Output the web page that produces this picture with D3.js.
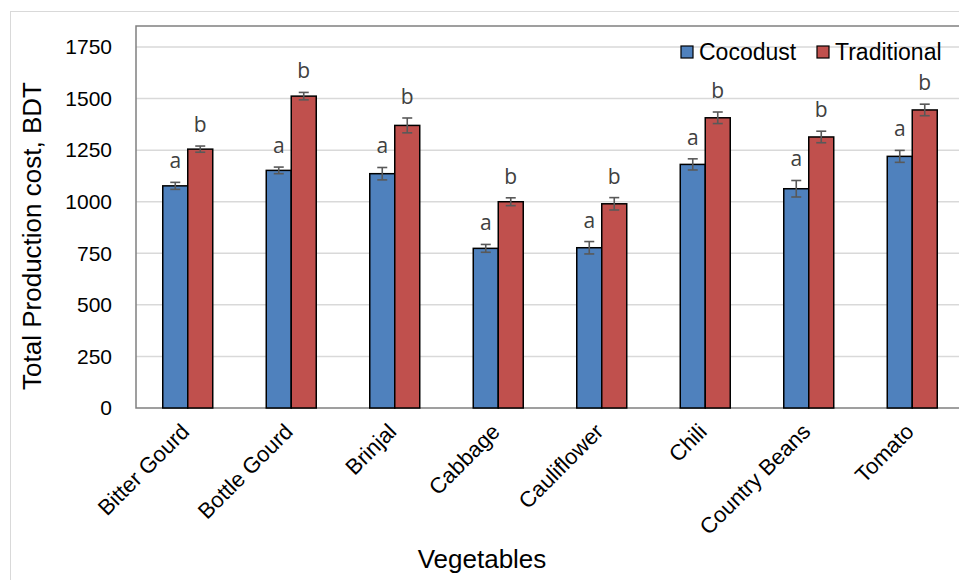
<!DOCTYPE html>
<html>
<head>
<meta charset="utf-8">
<script src="https://cdn.jsdelivr.net/npm/d3@7"></script>
<style>
  body { margin: 0; background: #fff; }
  svg { display: block; font-family: "Liberation Sans", Arial, sans-serif; }
</style>
</head>
<body>
<div id="vis"></div>
<script>
// data
var vegetables = ['Bitter Gourd', 'Bottle Gourd', 'Brinjal', 'Cabbage', 'Cauliflower', 'Chili', 'Country Beans', 'Tomato'];
var seriesNames = ['Cocodust', 'Traditional'];
var cocodust = [1077, 1152, 1136, 774, 777, 1181, 1063, 1220];
var cocodustErr = [17, 16, 30, 19, 30, 27, 40, 29];
var traditional = [1255, 1512, 1370, 1000, 990, 1407, 1314, 1445];
var traditionalErr = [15, 18, 36, 19, 30, 28, 28, 28];
var letters = ['a', 'b'];
var yTicks = [0, 250, 500, 750, 1000, 1250, 1500, 1750];

var colors = ['#4F81BD', '#C0504D'];

var width = 959,
	height = 580;
var margin = { top: 26, left: 136, bottom: 172, right: -5 };

var svg = d3.select('#vis').append('svg').attr('width', width).attr('height', height);

// outer chart border
svg
	.append('rect')
	.attr('x', 10.5)
	.attr('y', 11.5)
	.attr('width', width)
	.attr('height', height)
	.attr('fill', 'none')
	.attr('stroke', '#d9d9d9')
	.attr('stroke-width', 1);

var plotW = width - margin.left - margin.right,
	plotH = height - margin.top - margin.bottom;

var g = svg.append('g').attr('transform', 'translate(' + margin.left + ',' + margin.top + ')');

var y = d3.scaleLinear().domain([ 0, 1852 ]).range([ plotH, 0 ]);

var x0 = d3.scaleBand().domain(vegetables).range([ 0, plotW ]).paddingInner(0.517).paddingOuter(0.2585);
var x1 = d3.scaleBand().domain(seriesNames).range([ 0, x0.bandwidth() ]);

// gridlines
g
	.selectAll('.grid')
	.data(yTicks.slice(1))
	.enter()
	.append('line')
	.attr('x1', 0)
	.attr('x2', plotW)
	.attr('y1', function(d) {
		return y(d);
	})
	.attr('y2', function(d) {
		return y(d);
	})
	.attr('stroke', '#d9d9d9')
	.attr('stroke-width', 1.5);

// y axis labels
var yAxis = d3.axisLeft(y).tickValues(yTicks).tickFormat(d3.format('d')).tickSize(0).tickPadding(24);
var ya = g.append('g').call(yAxis);
ya.select('.domain').remove();
ya.selectAll('text').attr('font-size', 21).attr('fill', '#000').attr('font-family', '"Liberation Sans", Arial, sans-serif');

// plot frame: left, top, bottom
g
	.append('path')
	.attr('d', 'M' + plotW + ',0H0V' + plotH + 'H' + plotW)
	.attr('fill', 'none')
	.attr('stroke', '#808080')
	.attr('stroke-width', 1.5);

var rows = vegetables.map(function(v, i) {
	return {
		name: v,
		vals: [
			{ s: seriesNames[0], v: cocodust[i], e: cocodustErr[i], k: 0 },
			{ s: seriesNames[1], v: traditional[i], e: traditionalErr[i], k: 1 }
		]
	};
});

var groups = g
	.selectAll('.group')
	.data(rows)
	.enter()
	.append('g')
	.attr('transform', function(d) {
		return 'translate(' + x0(d.name) + ',0)';
	});

var items = groups
	.selectAll('.item')
	.data(function(d) {
		return d.vals;
	})
	.enter()
	.append('g');

items
	.append('rect')
	.attr('x', function(d) {
		return x1(d.s);
	})
	.attr('width', x1.bandwidth())
	.attr('y', function(d) {
		return y(d.v);
	})
	.attr('height', function(d) {
		return plotH - y(d.v);
	})
	.attr('fill', function(d) {
		return colors[d.k];
	})
	.attr('stroke', '#000')
	.attr('stroke-width', 1.5);

// error bars
var err = items.append('g').attr('stroke', '#595959').attr('stroke-width', 1.6);
err
	.append('line')
	.attr('x1', function(d) {
		return x1(d.s) + x1.bandwidth() / 2;
	})
	.attr('x2', function(d) {
		return x1(d.s) + x1.bandwidth() / 2;
	})
	.attr('y1', function(d) {
		return y(d.v + d.e);
	})
	.attr('y2', function(d) {
		return y(d.v - d.e);
	});
[ 1, -1 ].forEach(function(sign) {
	err
		.append('line')
		.attr('x1', function(d) {
			return x1(d.s) + x1.bandwidth() / 2 - 5;
		})
		.attr('x2', function(d) {
			return x1(d.s) + x1.bandwidth() / 2 + 5;
		})
		.attr('y1', function(d) {
			return y(d.v + sign * d.e);
		})
		.attr('y2', function(d) {
			return y(d.v + sign * d.e);
		});
});

// significance letters
items
	.append('text')
	.attr('x', function(d) {
		return x1(d.s) + x1.bandwidth() / 2;
	})
	.attr('y', function(d) {
		return y(d.v + d.e) - 14;
	})
	.attr('text-anchor', 'middle')
	.attr('font-size', 21)
	.attr('font-family', '"Open Sans", "Noto Sans", sans-serif')
	.attr('fill', '#404040')
	.text(function(d) {
		return letters[d.k];
	});

// category labels, rotated
g
	.selectAll('.xlab')
	.data(vegetables)
	.enter()
	.append('text')
	.attr('transform', function(d) {
		return 'translate(' + (x0(d) + x0.bandwidth() / 2 + 3) + ',' + (plotH + 25) + ') rotate(-45)';
	})
	.attr('text-anchor', 'end')
	.attr('font-size', 22)
	.attr('fill', '#000')
	.text(function(d) {
		return d;
	});

// axis titles
svg
	.append('text')
	.attr('transform', 'translate(41,236) rotate(-90)')
	.attr('text-anchor', 'middle')
	.attr('font-size', 26)
	.attr('fill', '#000')
	.text('Total Production cost, BDT');

svg
	.append('text')
	.attr('x', 482)
	.attr('y', 568)
	.attr('text-anchor', 'middle')
	.attr('font-size', 26)
	.attr('fill', '#000')
	.text('Vegetables');

// legend
var legend = svg.append('g').attr('transform', 'translate(681,46)');
var legendX = [ 0, 136 ];
seriesNames.forEach(function(name, i) {
	var l = legend.append('g').attr('transform', 'translate(' + legendX[i] + ',0)');
	l
		.append('rect')
		.attr('width', 12)
		.attr('height', 12)
		.attr('fill', colors[i])
		.attr('stroke', '#000')
		.attr('stroke-width', 1.2);
	l.append('text').attr('x', 18).attr('y', 14).attr('font-size', 23).attr('fill', '#000').text(name);
});
</script>
</body>
</html>
